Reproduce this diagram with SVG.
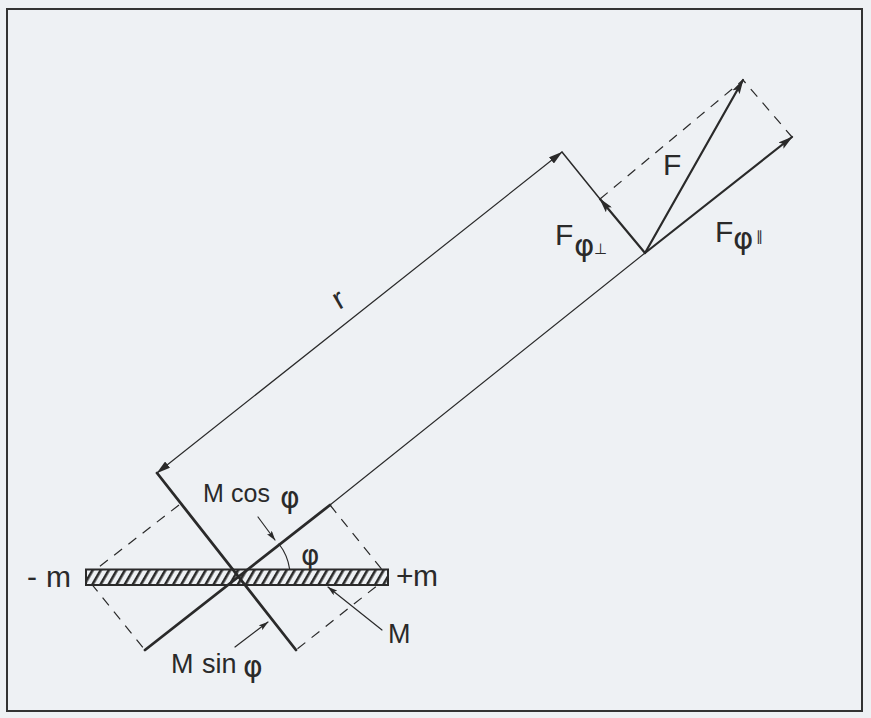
<svg xmlns="http://www.w3.org/2000/svg" width="871" height="718" viewBox="0 0 871 718">
<defs>
<style>
.ink{stroke:#2a2a2a;fill:none;stroke-linecap:round;stroke-linejoin:round}
.thin{stroke-width:1.2}
.ext{stroke-width:1.5}
.thick{stroke-width:2.8}
.vec{stroke-width:2.2}
.dash{stroke-width:1.2;stroke-dasharray:10 8;stroke-linecap:butt}
text{font-family:"Liberation Sans",Arial,sans-serif;fill:#2a2a2a}
.gr{font-family:"DejaVu Sans",sans-serif}
</style>
<marker id="ah" viewBox="0 0 15 8" markerWidth="15" markerHeight="8" refX="14" refY="4" orient="auto-start-reverse" markerUnits="userSpaceOnUse">
<path d="M0,0 L15,4 L0,8 L3,4 z" fill="#2a2a2a"/>
</marker>
<marker id="ra" viewBox="0 0 14 8" markerWidth="14" markerHeight="8" refX="13.5" refY="4" orient="auto-start-reverse" markerUnits="userSpaceOnUse">
<path d="M0,0 L14,4 L0,8 z" fill="#2a2a2a"/>
</marker>
<marker id="pa" viewBox="0 0 10 6" markerWidth="10" markerHeight="6" refX="9.5" refY="3" orient="auto" markerUnits="userSpaceOnUse">
<path d="M0,0 L10,3 L0,6 L2,3 z" fill="#2a2a2a"/>
</marker>
<pattern id="hatch" width="7" height="10" patternUnits="userSpaceOnUse" patternTransform="rotate(30)">
<rect width="7" height="10" fill="#eef1f4"/>
<rect width="2.6" height="10" fill="#2a2a2a"/>
</pattern>
</defs>
<rect width="871" height="718" fill="#eef1f4"/>
<rect id="frame" x="7" y="9" width="855" height="702" fill="none" stroke="#333" stroke-width="2"/>

<g id="connectors">
<path class="ink dash" d="M330,505 L388,577 L296,650"/>
<path class="ink dash" d="M179,505 L86,577 L145,650"/>
<path class="ink dash" d="M600,199 L743,80 L792,137"/>
<line class="ink thin" x1="330" y1="505" x2="645" y2="253"/>
<line class="ink thin" x1="157" y1="473" x2="562" y2="152" marker-start="url(#ra)" marker-end="url(#ra)"/>
<line class="ink ext" x1="562" y1="152" x2="600" y2="199"/>
<line class="ink vec" x1="645" y1="253" x2="600" y2="199" marker-end="url(#ah)"/>
<line class="ink vec" x1="645" y1="253" x2="743" y2="80" marker-end="url(#ah)"/>
<line class="ink vec" x1="645" y1="253" x2="792" y2="137" marker-end="url(#ah)"/>
<line class="ink thin" x1="258" y1="517" x2="275" y2="540" marker-end="url(#pa)"/>
<line class="ink thin" x1="235" y1="647" x2="268" y2="622" marker-end="url(#pa)"/>
<line class="ink thin" x1="382" y1="630" x2="328" y2="587" marker-end="url(#pa)"/>
<path class="ink thin" d="M289.6,569 A53,53 0 0 0 279,544"/>
</g>

<g id="dipole">
<rect x="86" y="569.5" width="302" height="15.5" fill="url(#hatch)" stroke="#2a2a2a" stroke-width="2"/>
<line class="ink thick" x1="157" y1="473" x2="296" y2="650"/>
<line class="ink thick" x1="145" y1="650" x2="330" y2="505"/>
</g>

<g id="labels">
<text y="587" font-size="30"><tspan x="27">-</tspan><tspan x="46">m</tspan></text>
<text y="586" font-size="30"><tspan x="396">+</tspan><tspan x="413">m</tspan></text>
<text x="388" y="643" font-size="27">M</text>
<text y="502" font-size="25"><tspan x="203">M</tspan><tspan x="231">cos</tspan><tspan class="gr" x="280" y="508" font-size="30">φ</tspan></text>
<text y="673" font-size="27"><tspan x="171">M</tspan><tspan x="202">sin</tspan><tspan class="gr" x="243" y="677" font-size="30">φ</tspan></text>
<text class="gr" x="301" y="565" font-size="28">φ</text>
<text x="0" y="0" font-size="30" transform="translate(339,310) rotate(-30)">r</text>
<text x="663" y="175" font-size="30">F</text>
<text y="245" font-size="30"><tspan x="555">F</tspan><tspan class="gr" x="574" y="256" font-size="31">φ</tspan><tspan x="594" y="254" font-size="15">⊥</tspan></text>
<text y="242" font-size="30"><tspan x="715">F</tspan><tspan class="gr" x="733" y="249" font-size="31">φ</tspan><tspan x="756" y="241" font-size="14">∥</tspan></text>
</g>
</svg>
